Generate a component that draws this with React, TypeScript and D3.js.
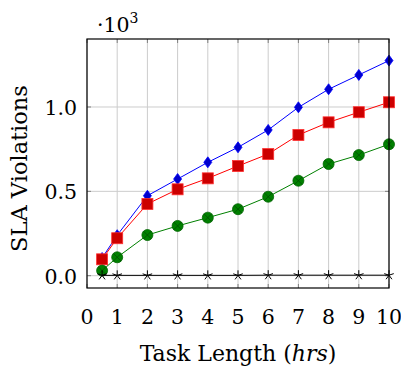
import React from 'react';
import * as d3 from 'd3';

// task length in hours
const taskLength = [0.5, 1, 2, 3, 4, 5, 6, 7, 8, 9, 10];

// SLA violations per series
const seriesBlue = [105, 240, 474, 573, 672, 761, 864, 998, 1105, 1190, 1275];
const seriesRed = [97, 222, 425, 512, 577, 650, 721, 834, 909, 969, 1028];
const seriesGreen = [30, 109, 241, 295, 344, 394, 468, 563, 662, 715, 779];
const seriesBlack = [2, 2, 2, 2, 2, 2, 3, 3, 3, 3, 3];

const xTicks = [0, 1, 2, 3, 4, 5, 6, 7, 8, 9, 10];
const yTicks = [0, 500, 1000];
const yTickLabels = ['0.0', '0.5', '1.0'];

const W = 401;
const H = 367;
const left = 87, right = 389, top = 39, bottom = 288;
const serif = "'DejaVu Serif', serif";
const tickTxt = { fontFamily: serif, fontSize: 20.5 };

const x = d3.scaleLinear().domain([0, 10]).range([left, right]);
const y = d3.scaleLinear().domain([-73, 1403]).range([bottom, top]);

const line = d3.line<number>()
    .x((d, i) => x(taskLength[i]))
    .y(d => y(d));

const diamond = (cx, cy) => `M${cx},${cy - 5.5}L${cx + 4},${cy}L${cx},${cy + 5.5}L${cx - 4},${cy}Z`;

const starPath = (cx, cy, r) => {
    let p = '';
    for (let k = 0; k < 5; k++) {
        const a = -Math.PI / 2 + (k * 2 * Math.PI) / 5;
        p += `M${cx},${cy}L${cx + r * Math.cos(a)},${cy + r * Math.sin(a)}`;
    }
    return p;
};

const App = () => {
    return (
        <svg width={W} height={H} style={{ position: 'absolute', left: 0, top: 0 }}>
            <rect width={W} height={H} fill="#fff" />
            {/* grid */}
            {xTicks.map(t => (
                <line key={'gx' + t} x1={x(t)} x2={x(t)} y1={top} y2={bottom} stroke="#cccccc" strokeWidth={1} />
            ))}
            {yTicks.map(t => (
                <line key={'gy' + t} x1={left} x2={right} y1={y(t)} y2={y(t)} stroke="#cccccc" strokeWidth={1} />
            ))}
            {/* ticks */}
            {xTicks.map(t => (
                <g key={'tx' + t} stroke="#808080" strokeWidth={1}>
                    <line x1={x(t)} x2={x(t)} y1={bottom} y2={bottom - 4} />
                    <line x1={x(t)} x2={x(t)} y1={top} y2={top + 4} />
                </g>
            ))}
            {yTicks.map(t => (
                <g key={'ty' + t} stroke="#808080" strokeWidth={1}>
                    <line x1={left} x2={left + 4} y1={y(t)} y2={y(t)} />
                    <line x1={right} x2={right - 4} y1={y(t)} y2={y(t)} />
                </g>
            ))}

            {/* blue */}
            <path d={line(seriesBlue)} fill="none" stroke="#0000ff" strokeWidth={1} />
            {seriesBlue.map((v, i) => (
                <path key={'b' + i} d={diamond(x(taskLength[i]), y(v))} fill="#0000cc" stroke="#0000ff" strokeWidth={0.8} />
            ))}

            {/* red */}
            <path d={line(seriesRed)} fill="none" stroke="#ff0000" strokeWidth={1} />
            {seriesRed.map((v, i) => (
                <rect key={'r' + i} x={x(taskLength[i]) - 5.5} y={y(v) - 5.5} width={11} height={11} fill="#cc0000" stroke="#ff3030" strokeWidth={0.8} />
            ))}

            {/* green */}
            <path d={line(seriesGreen)} fill="none" stroke="#008000" strokeWidth={1} />
            {seriesGreen.map((v, i) => {
                const cx = x(taskLength[i]), cy = y(v), r = 5.5, d = r * 0.7071;
                return (
                    <g key={'g' + i}>
                        <circle cx={cx} cy={cy} r={r} fill="#008000" stroke="#006400" strokeWidth={0.8} />
                        <path d={`M${cx - d},${cy - d}L${cx + d},${cy + d}M${cx - d},${cy + d}L${cx + d},${cy - d}`} stroke="#005000" strokeWidth={0.8} />
                    </g>
                );
            })}

            {/* black */}
            <path d={line(seriesBlack)} fill="none" stroke="#000" strokeWidth={1} />
            {seriesBlack.map((v, i) => (
                <path key={'k' + i} d={starPath(x(taskLength[i]), y(v), 5)} stroke="#000" strokeWidth={1} fill="none" />
            ))}

            {/* frame */}
            <rect x={left} y={top} width={right - left} height={bottom - top} fill="none" stroke="#000" strokeWidth={1.2} />

            {/* tick labels */}
            {xTicks.map(t => (
                <text key={'lx' + t} x={x(t)} y={324} textAnchor="middle" style={tickTxt}>{t}</text>
            ))}
            {yTicks.map((t, i) => (
                <text key={'ly' + t} x={77} y={y(t) + 8} textAnchor="end" style={tickTxt}>{yTickLabels[i]}</text>
            ))}

            {/* scale factor */}
            <text x={97} y={32} style={tickTxt}>
                ·10<tspan dy={-9} style={{ fontSize: 14 }}>3</tspan>
            </text>

            {/* axis titles */}
            <text x={238} y={361} textAnchor="middle" style={{ fontFamily: serif, fontSize: 22 }}>
                Task Length (<tspan fontStyle="italic">hrs</tspan>)
            </text>
            <text transform={`translate(27,${(top + bottom) / 2 + 5}) rotate(-90)`} textAnchor="middle" style={{ fontFamily: serif, fontSize: 22.5 }}>
                SLA Violations
            </text>
        </svg>
    );
};

export default App;
